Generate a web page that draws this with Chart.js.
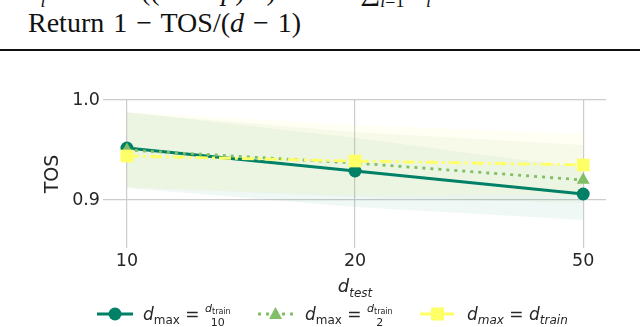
<!DOCTYPE html>
<html>
<head>
<meta charset="utf-8">
<script src="https://cdn.jsdelivr.net/npm/chart.js@4"></script>
<style>
body { margin:0; width:640px; height:327px; overflow:hidden; background:#fff; position:relative; font-family:"DejaVu Sans", sans-serif; color:#262626; }
.serif { position:absolute; font-family:"Liberation Serif", serif; font-size:28px; line-height:28px; color:#111; white-space:nowrap; word-spacing:2px; }
.serif sub { font-size:18px; }
#rule { position:absolute; left:0; top:49px; width:640px; height:1.5px; background:#111; }
#wrap { position:absolute; left:40px; top:60px; width:600px; height:220px; }
#xtitle { position:absolute; left:0; width:710px; top:276px; text-align:center; font-size:18px; line-height:20px; }
#xtitle sub { font-size:12px; }
.item { position:absolute; top:302px; height:24px; white-space:nowrap; font-size:17px; line-height:24px; }
.item svg { position:absolute; left:0; top:4px; }
.lab { position:absolute; top:0; }
.lab sub { font-size:12px; vertical-align:-4px; }
.frac { display:inline-block; vertical-align:middle; text-align:center; font-size:11px; line-height:11px; }
.frac sub { font-size:8px; vertical-align:-2px; }
.frac span { display:block; }
</style>
</head>
<body>
<div class="serif" style="left:28px; top:-23px;"><i>x<sub>i</sub></i> ∼ Bern((1 − 3<i>p</i>)/<i>d</i>)</div>
<div class="serif" style="left:300px; top:-23px;">until ∑<sub><i>i</i>=1</sub> <i>x<sub>i</sub></i> ≥ 1</div>
<div class="serif" style="left:28px; top:9px;">Return 1 − TOS/(<i>d</i> − 1)</div>
<div id="rule"></div>

<div id="wrap"><canvas id="myChart"></canvas></div>
<div id="xtitle"><i>d</i><sub><i>test</i></sub></div>

<div class="item" style="left:97px">
  <svg width="40" height="16"><line x1="0" y1="8" x2="36" y2="8" stroke="#008066" stroke-width="3"/><circle cx="18" cy="8" r="6.5" fill="#008066"/></svg>
  <span class="lab" style="left:46px"><i>d</i><sub>max</sub> = <span class="frac"><span><i>d</i><sub>train</sub></span><span>10</span></span></span>
</div>
<div class="item" style="left:258px">
  <svg width="40" height="16"><line x1="0" y1="8" x2="36" y2="8" stroke="#80bf66" stroke-width="3" stroke-dasharray="3 5"/><polygon points="17.5,1 24,13 11,13" fill="#80bf66"/></svg>
  <span class="lab" style="left:47px"><i>d</i><sub>max</sub> = <span class="frac"><span><i>d</i><sub>train</sub></span><span>2</span></span></span>
</div>
<div class="item" style="left:420px">
  <svg width="40" height="16"><line x1="0" y1="8" x2="34" y2="8" stroke="#ffff66" stroke-width="3" stroke-dasharray="12 4 3 4"/><rect x="11" y="1.5" width="13" height="13" fill="#ffff66"/></svg>
  <span class="lab" style="left:47px"><i>d<sub>max</sub></i> = <i>d<sub>train</sub></i></span>
</div>

<script>
var xLabels = ['10', '20', '50'];
var yTicks = [0.9, 1.0];

var tosMax10 = [0.952, 0.929, 0.906];
var tosMax2 = [0.950, 0.937, 0.920];
var tosTrain = [0.944, 0.939, 0.935];

var loMax10 = [0.912, 0.893, 0.880];
var hiMax10 = [0.988, 0.962, 0.932];
var loMax2 = [0.913, 0.903, 0.897];
var hiMax2 = [0.987, 0.968, 0.955];
var loTrain = [0.912, 0.905, 0.905];
var hiTrain = [0.988, 0.975, 0.966];

var green = '#008066';
var light = '#80bf66';
var yellow = '#ffff66';

function pts(arr) {
    return arr.map((v, i) => ({x: i, y: v}));
}

function line(data, color, dash, style, r) {
    return {
        data: pts(data),
        borderColor: color,
        backgroundColor: color,
        borderWidth: 2.8,
        borderDash: dash,
        pointStyle: style,
        pointRadius: r,
        pointBorderWidth: 0,
        pointBackgroundColor: color,
        fill: false
    };
}

function band(data, color, target) {
    return {
        data: pts(data),
        borderWidth: 0,
        borderColor: 'rgba(0,0,0,0)',
        backgroundColor: color,
        pointRadius: 0,
        fill: target === undefined ? false : {target: target}
    };
}

// first dataset is drawn on top
var dataset = [
    line(tosTrain, yellow, [12, 4, 3, 4], 'rect', 9),
    line(tosMax2, light, [3, 5], 'triangle', 7.5),
    line(tosMax10, green, [], 'circle', 6.5),
    band(hiTrain, 'rgba(255,255,102,0.08)', 4),
    band(loTrain, 'rgba(0,0,0,0)'),
    band(hiMax2, 'rgba(128,191,102,0.07)', 6),
    band(loMax2, 'rgba(0,0,0,0)'),
    band(hiMax10, 'rgba(0,128,102,0.06)', 8),
    band(loMax10, 'rgba(0,0,0,0)')
];

var option = {
    responsive: true,
    maintainAspectRatio: false,
    animation: false,
    layout: {padding: {top: 40, right: 34, left: 0, bottom: 0}},
    elements: {line: {tension: 0}},
    plugins: {legend: {display: false}, tooltip: {enabled: false}},
    scales: {
        x: {
            type: 'linear',
            min: -0.105,
            max: 2.1,
            afterFit: (s) => { s.height = 32; },
            afterBuildTicks: (s) => { s.ticks = xLabels.map((l, i) => ({value: i})); },
            ticks: {
                callback: (v) => xLabels[v],
                font: {family: 'DejaVu Sans', size: 17.5},
                color: '#262626',
                padding: 3,
                maxRotation: 0
            },
            grid: {color: '#cccccc', lineWidth: 1.2, drawTicks: false},
            border: {display: false}
        },
        y: {
            min: 0.852,
            max: 1.0,
            afterFit: (s) => { s.width = 63; },
            afterBuildTicks: (s) => { s.ticks = yTicks.map(v => ({value: v})); },
            ticks: {
                callback: (v) => v.toFixed(1),
                font: {family: 'DejaVu Sans', size: 17.5},
                color: '#262626',
                padding: 3
            },
            grid: {color: '#cccccc', lineWidth: 1.2, drawTicks: false},
            border: {display: false},
            title: {display: true, text: 'TOS', font: {family: 'DejaVu Sans', size: 19}, color: '#262626', padding: {top: 2, bottom: 2}}
        }
    }
};

var ctx = document.getElementById('myChart').getContext('2d');
var myChart = new Chart(ctx, {type: 'line', data: {datasets: dataset}, options: option});
</script>
</body>
</html>
